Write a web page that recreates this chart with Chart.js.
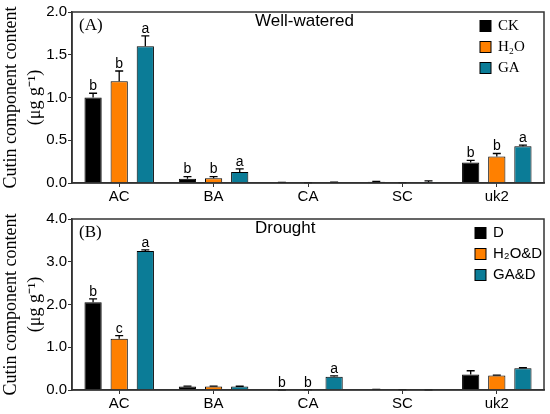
<!DOCTYPE html>
<html lang="en">
<head>
    <meta charset="UTF-8">
    <title>Cutin component content</title>
    <script src="https://cdn.jsdelivr.net/npm/chart.js"></script>
    <style>
        body { margin: 0; background: #fff; }
        .panel { position: absolute; left: 0; width: 550px; height: 207px; }
    </style>
</head>
<body>
    <div class="panel" style="top:0"><canvas id="chartA"></canvas></div>
    <div class="panel" style="top:207px"><canvas id="chartB"></canvas></div>
    <script>
        // data
        const categories = ['AC', 'BA', 'CA', 'SC', 'uk2'];

        // (A) well-watered
        const wwLabels = ['CK', 'H\u2082O', 'GA'];
        const ckValues  = [1.00, 0.05, 0.005, 0.015, 0.24];
        const ckErrors  = [0.05, 0.025, 0.002, 0.005, 0.025];
        const ckLetters = ['b', 'b', '', '', 'b'];
        const h2oValues  = [1.19, 0.055, 0.003, 0.003, 0.31];
        const h2oErrors  = [0.12, 0.02, 0.002, 0.002, 0.035];
        const h2oLetters = ['b', 'b', '', '', 'b'];
        const gaValues  = [1.60, 0.13, 0.008, 0.01, 0.43];
        const gaErrors  = [0.12, 0.035, 0.002, 0.015, 0.012];
        const gaLetters = ['a', 'a', '', '', 'a'];

        // (B) drought
        const drLabels = ['D', 'H\u2082O&D', 'GA&D'];
        const dValues  = [2.05, 0.08, 0.0, 0.01, 0.36];
        const dErrors  = [0.08, 0.01, 0.0, 0.003, 0.09];
        const dLetters = ['b', '', 'b', '', ''];
        const h2odValues  = [1.20, 0.08, 0.005, 0.005, 0.34];
        const h2odErrors  = [0.07, 0.01, 0.002, 0.002, 0.01];
        const h2odLetters = ['c', '', 'b', '', ''];
        const gadValues  = [3.25, 0.08, 0.31, 0.003, 0.51];
        const gadErrors  = [0.03, 0.008, 0.02, 0.001, 0.01];
        const gadLetters = ['a', '', 'a', '', ''];

        const colors = ['#000000', '#FF8000', '#0B7C97'];
        const sans = 'Arial, "Liberation Sans", sans-serif';
        const serif = '"Times New Roman", "Liberation Serif", serif';

        const extrasPlugin = {
            id: 'extras',
            afterDatasetsDraw(chart, args, opts) {
                const ctx = chart.ctx;
                const y = chart.scales.y;
                const area = chart.chartArea;
                ctx.save();
                // error bars + significance letters
                chart.data.datasets.forEach((ds, di) => {
                    const meta = chart.getDatasetMeta(di);
                    meta.data.forEach((bar, i) => {
                        const top = y.getPixelForValue(ds.data[i] + ds.errors[i]);
                        ctx.strokeStyle = '#000';
                        ctx.lineWidth = 1.3;
                        ctx.beginPath();
                        ctx.moveTo(bar.x, bar.y);
                        ctx.lineTo(bar.x, top);
                        ctx.moveTo(bar.x - 4, top);
                        ctx.lineTo(bar.x + 4, top);
                        ctx.stroke();
                        if (ds.letters[i]) {
                            ctx.fillStyle = '#000';
                            ctx.font = '14px ' + sans;
                            ctx.textAlign = 'center';
                            ctx.textBaseline = 'bottom';
                            ctx.fillText(ds.letters[i], bar.x, top);
                        }
                    });
                });
                // frame
                ctx.strokeStyle = '#333';
                ctx.lineWidth = 1.5;
                ctx.strokeRect(area.left, area.top, area.right - area.left, area.bottom - area.top);
                // panel label and title
                ctx.fillStyle = '#000';
                ctx.textBaseline = 'middle';
                ctx.textAlign = 'left';
                ctx.font = '17px ' + serif;
                ctx.fillText(opts.panel, area.left + 7, area.top + 14);
                ctx.font = '17px ' + sans;
                ctx.fillText(opts.title, 255, area.top + 9);
                // legend
                chart.data.datasets.forEach((ds, di) => {
                    const ly = area.top + 14 + di * 21;
                    ctx.fillStyle = ds.backgroundColor;
                    ctx.fillRect(opts.legendX, ly - 5.5, 11, 11);
                    ctx.strokeStyle = '#000';
                    ctx.lineWidth = 1;
                    ctx.strokeRect(opts.legendX, ly - 5.5, 11, 11);
                    ctx.fillStyle = '#000';
                    ctx.font = '15px ' + opts.legendFont;
                    ctx.fillText(ds.label, opts.legendX + 18, ly);
                });
                ctx.restore();
            }
        };

        function makeChart(id, labels, values, errors, letters, yMax, yStep, panel, title, legendFont, legendX) {
            const datasets = labels.map((lab, k) => ({
                label: lab,
                data: values[k],
                errors: errors[k],
                letters: letters[k],
                backgroundColor: colors[k],
                borderColor: '#000',
                borderWidth: 1,
                categoryPercentage: 0.83,
                barPercentage: 0.66
            }));
            return new Chart(document.getElementById(id), {
                type: 'bar',
                data: { labels: categories, datasets: datasets },
                plugins: [extrasPlugin],
                options: {
                    responsive: true,
                    maintainAspectRatio: false,
                    animation: false,
                    layout: { padding: { top: 12, right: 6, bottom: 0, left: 0 } },
                    plugins: {
                        legend: { display: false },
                        tooltip: { enabled: false },
                        extras: { panel: panel, title: title, legendFont: legendFont, legendX: legendX }
                    },
                    scales: {
                        x: {
                            grid: { display: true, drawOnChartArea: false, offset: false, tickLength: 4, color: '#333' },
                            border: { color: '#333', width: 1.5 },
                            ticks: { color: '#000', font: { family: sans, size: 15 }, padding: 1 },
                            afterFit(s) { s.height = 24; }
                        },
                        y: {
                            min: 0,
                            max: yMax,
                            grid: { display: true, drawOnChartArea: false, tickLength: 4, color: '#333' },
                            border: { color: '#333', width: 1.5 },
                            ticks: {
                                stepSize: yStep,
                                color: '#000',
                                font: { family: sans, size: 15 },
                                padding: 1,
                                callback: v => v.toFixed(1)
                            },
                            title: {
                                display: true,
                                text: ['Cutin component content', '(\u03bcg g\u207b\u00b9)'],
                                color: '#000',
                                font: { family: serif, size: 18, lineHeight: 1.3 },
                                padding: 0
                            },
                            afterFit(s) { s.width = 72; }
                        }
                    }
                }
            });
        }

        makeChart('chartA', wwLabels,
            [ckValues, h2oValues, gaValues],
            [ckErrors, h2oErrors, gaErrors],
            [ckLetters, h2oLetters, gaLetters],
            2.0, 0.5, '(A)', 'Well-watered', serif, 480);

        makeChart('chartB', drLabels,
            [dValues, h2odValues, gadValues],
            [dErrors, h2odErrors, gadErrors],
            [dLetters, h2odLetters, gadLetters],
            4.0, 1.0, '(B)', 'Drought', sans, 475);
    </script>
</body>
</html>
